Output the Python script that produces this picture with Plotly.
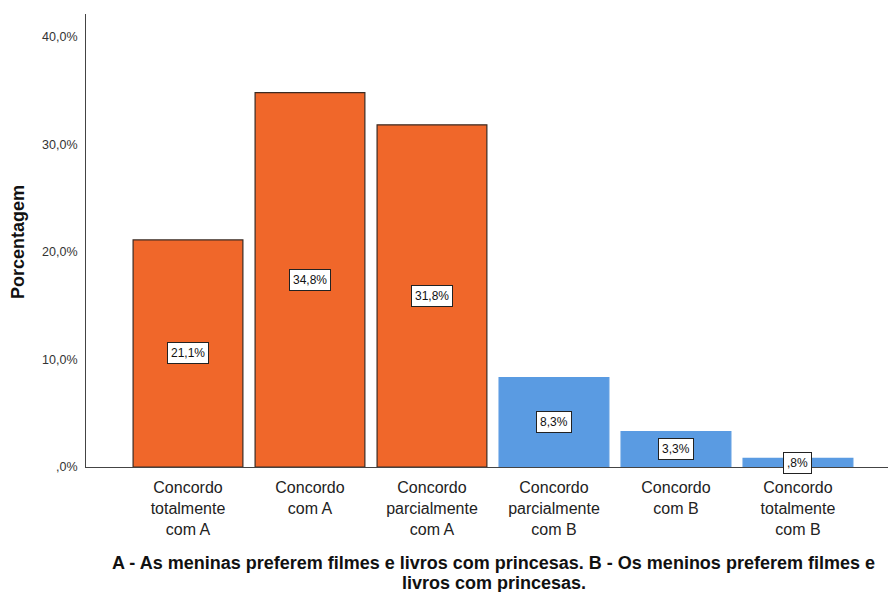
import plotly.graph_objects as go

categories = ["Concordo<br>totalmente<br>com A", "Concordo<br>com A", "Concordo<br>parcialmente<br>com A",
              "Concordo<br>parcialmente<br>com B", "Concordo<br>com B", "Concordo<br>totalmente<br>com B"]
values = [21.1, 34.8, 31.8, 8.3, 3.3, 0.8]
value_labels = ["21,1%", "34,8%", "31,8%", "8,3%", "3,3%", ",8%"]
group = ["A", "A", "A", "B", "B", "B"]
ytick_vals = [0, 10, 20, 30, 40]
ytick_text = [",0%", "10,0%", "20,0%", "30,0%", "40,0%"]
title_lines = ["A - As meninas preferem filmes e livros com princesas. B - Os meninos preferem filmes e",
               "livros com princesas."]
y_title = "Porcentagem"

ORANGE = "#F0672A"
BLUE = "#5A9BE2"
colors = [ORANGE if g == "A" else BLUE for g in group]
line_colors = ["#3b2a22" if g == "A" else BLUE for g in group]

W, H = 888, 592
ML, MR, MT, MB = 86, 0, 14, 125

x = list(range(len(values)))

fig = go.Figure()
fig.add_trace(go.Bar(
    x=x, y=values, width=0.9,
    marker=dict(color=colors, line=dict(color=line_colors, width=1.2)),
    hoverinfo="skip", showlegend=False,
))

for i, (v, lab) in enumerate(zip(values, value_labels)):
    fig.add_annotation(x=i, y=v / 2, text=lab, showarrow=False,
                       font=dict(family="Arial, Liberation Sans", size=12, color="#111"),
                       bgcolor="white", bordercolor="#222", borderwidth=1, borderpad=3)

plot_h = H - MT - MB
plot_w = W - ML - MR
def py(px_y):
    return (H - MB - px_y) / plot_h
def px(px_x):
    return (px_x - ML) / plot_w

for line, ypix in zip(title_lines, [563, 583]):
    fig.add_annotation(xref="paper", yref="paper", x=px(494), y=py(ypix), yanchor="middle",
                       text="<b>" + line + "</b>", showarrow=False, align="center",
                       font=dict(family="Arial, Liberation Sans", size=18, color="#111"))

fig.add_annotation(xref="paper", yref="paper", x=px(18), y=py(242), xanchor="center", yanchor="middle",
                   text="<b>" + y_title + "</b>", textangle=-90, showarrow=False,
                   font=dict(family="Arial, Liberation Sans", size=18, color="#111"))

fig.update_layout(
    width=W, height=H,
    margin=dict(l=ML, r=MR, t=MT, b=MB),
    plot_bgcolor="white", paper_bgcolor="white",
    bargap=0.1,
)
fig.update_xaxes(range=[-0.836, 5.738], tickmode="array", tickvals=x, ticktext=categories,
                 showline=True, linecolor="#444", linewidth=1, ticks="", showgrid=False,
                 zeroline=False, ticklabelstandoff=6,
                 tickfont=dict(family="Arial, Liberation Sans", size=16, color="#222"))
fig.update_yaxes(range=[0, 42.1], tickmode="array", tickvals=ytick_vals, ticktext=ytick_text,
                 showline=True, linecolor="#444", linewidth=1, ticks="", showgrid=False,
                 zeroline=False, ticklabelstandoff=5,
                 tickfont=dict(family="Arial, Liberation Sans", size=12.5, color="#333"))

fig.write_html("out.html", config={"displayModeBar": False},
               post_script="document.body.style.margin='0';document.body.style.overflow='hidden';")
